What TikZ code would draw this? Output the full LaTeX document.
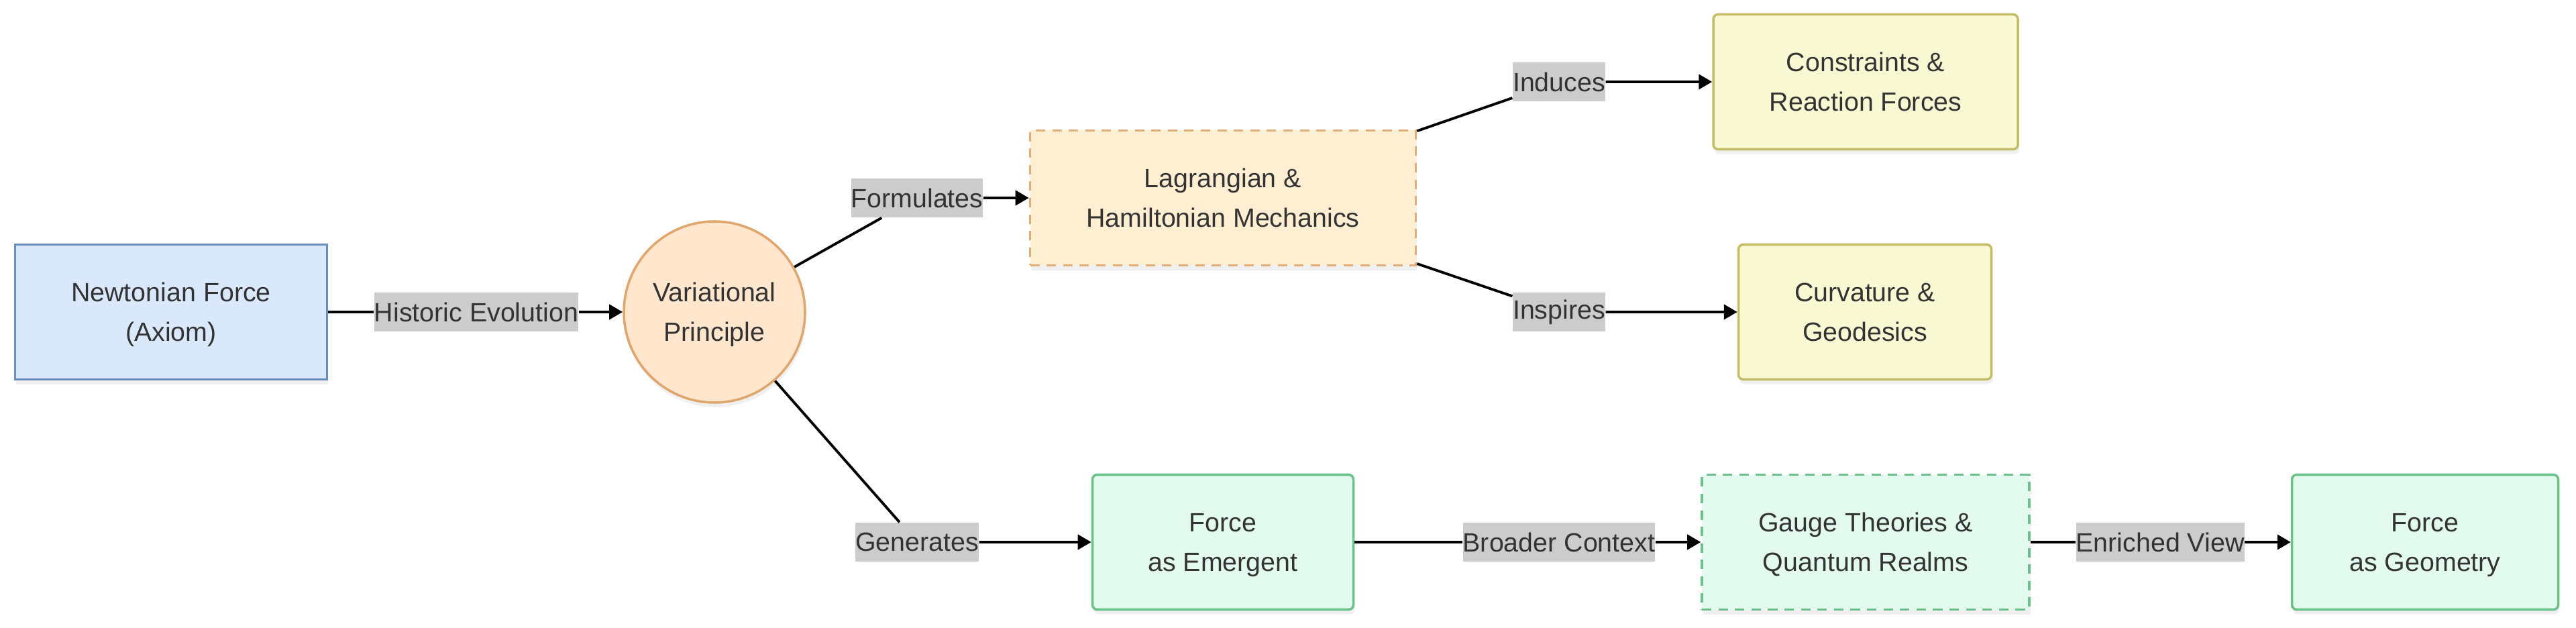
\documentclass[tikz,border=0pt]{standalone}
\usepackage{fontspec}
\setmainfont{Liberation Sans}
\usepackage{xcolor}
\usetikzlibrary{arrows.meta,shadows}

% цвета
\definecolor{txtgray}{HTML}{333333}
\definecolor{lblgray}{HTML}{CCCCCC}
\definecolor{bluefill}{HTML}{DAE8FC}
\definecolor{bluedraw}{HTML}{6C8EBF}
\definecolor{orgfill}{HTML}{FFE6CC}
\definecolor{orgdraw}{HTML}{DFA66E}
\definecolor{lagfill}{HTML}{FEEED2}
\definecolor{lagdraw}{HTML}{E0AE78}
\definecolor{ylwfill}{HTML}{F8F9D3}
\definecolor{ylwdraw}{HTML}{C5BC68}
\definecolor{grnfill}{HTML}{E3FAEE}
\definecolor{grndraw}{HTML}{6CC08A}

\tikzset{
  box/.style={draw, line width=1pt, text=txtgray, align=center,
    minimum height=2.01cm, font=\fontsize{11.2}{16.8}\selectfont,
    text height=29.08pt, text depth=4.52pt,
    drop shadow={opacity=0.12, shadow xshift=0.5pt, shadow yshift=-2pt}},
  bluebox/.style={fill=bluefill, draw=bluedraw},
  varcirc/.style={box, circle, minimum size=2.7cm, fill=orgfill, draw=orgdraw},
  lagbox/.style={fill=lagfill, draw=lagdraw, dash pattern=on 4pt off 3pt},
  ylwbox/.style={fill=ylwfill, draw=ylwdraw, rounded corners=2pt},
  grnbox/.style={fill=grnfill, draw=grndraw, rounded corners=2pt},
  gaugebox/.style={fill=grnfill, draw=grndraw, dash pattern=on 4pt off 3pt},
  lbl/.style={fill=lblgray, text=txtgray, inner xsep=0pt, inner ysep=0pt,
    minimum height=0.58cm, font=\fontsize{11.2}{13}\selectfont},
  arr/.style={line width=1.1pt, -{Triangle[length=5.7pt,width=6.3pt]}}
}

\begin{document}
\begin{tikzpicture}
\useasboundingbox (0,0) rectangle (38.4,9.35);
% узлы
\node [box, bluebox, minimum width=4.65cm] (newton) at (2.55,4.70) {Newtonian Force\\(Axiom)};
\node [varcirc] (var) at (10.65,4.70) {Variational\\Principle};
\node [box, lagbox, minimum width=5.75cm] (lag) at (18.23,6.40) {Lagrangian \&\\Hamiltonian Mechanics};
\node [box, ylwbox, minimum width=4.54cm] (constr) at (27.81,8.13) {Constraints \&\\Reaction Forces};
\node [box, ylwbox, minimum width=3.77cm] (curv) at (27.80,4.70) {Curvature \&\\Geodesics};
\node [box, grnbox, minimum width=3.89cm] (emerg) at (18.23,1.27) {Force\\as Emergent};
\node [box, gaugebox, minimum width=4.88cm] (gauge) at (27.81,1.27) {Gauge Theories \&\\Quantum Realms};
\node [box, grnbox, minimum width=3.97cm] (geom) at (36.15,1.27) {Force\\as Geometry};
% подписи
\node [lbl] (lblhist) at (7.10,4.70) {Historic Evolution};
\node [lbl] (lblform) at (13.67,6.40) {Formulates};
\node [lbl] (lblind) at (23.24,8.13) {Induces};
\node [lbl] (lblinsp) at (23.24,4.70) {Inspires};
\node [lbl] (lblgen) at (13.67,1.27) {Generates};
\node [lbl] (lblctx) at (23.24,1.27) {Broader Context};
\node [lbl] (lblview) at (32.20,1.27) {Enriched View};
% стрелки
\draw [arr] (newton) -- (lblhist) -- (var);
\draw [arr] (var) -- (lblform) -- (lag);
\draw [arr] (var) -- (lblgen) -- (emerg);
\draw [arr] (lag) -- (lblind) -- (constr);
\draw [arr] (lag) -- (lblinsp) -- (curv);
\draw [arr] (emerg) -- (lblctx) -- (gauge);
\draw [arr] (gauge) -- (lblview) -- (geom);
\end{tikzpicture}
\end{document}
